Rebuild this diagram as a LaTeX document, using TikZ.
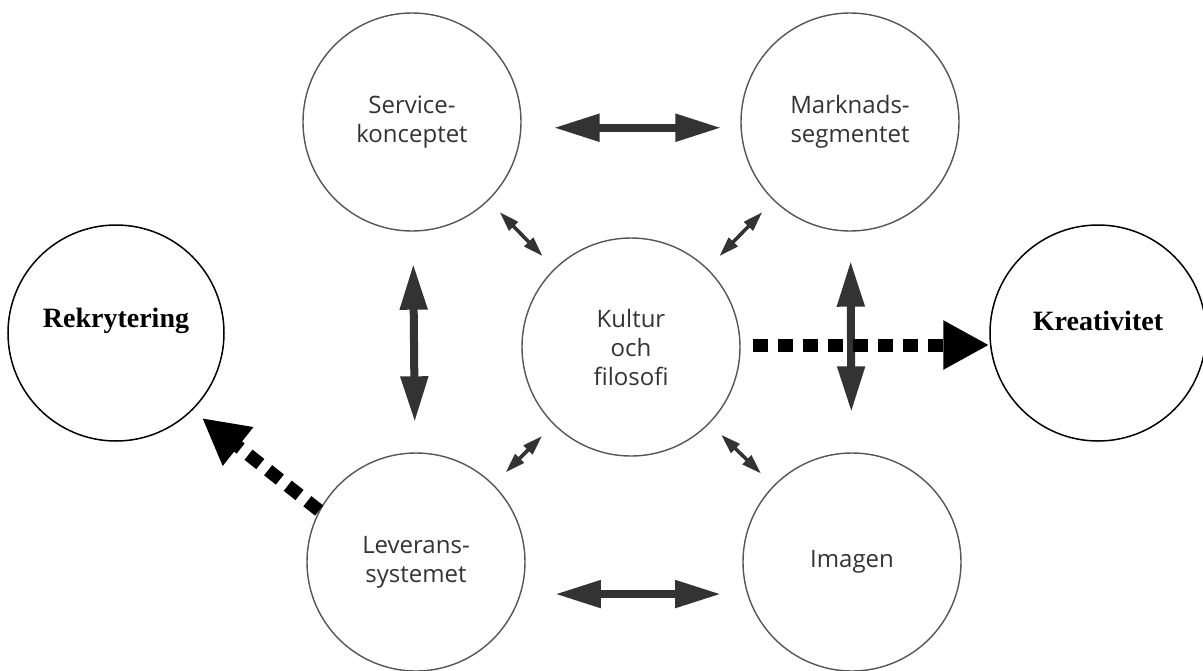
\documentclass[tikz,border=0pt]{standalone}
\usepackage{fontspec}
\setmainfont{Liberation Serif}
\newfontfamily\grayfont{Open Sans}
\usetikzlibrary{arrows.meta}
\definecolor{inkgray}{HTML}{333333}
\definecolor{linegray}{HTML}{555555}

\begin{document}
\begin{tikzpicture}[x=1pt,y=-1pt]
  \tikzstyle{ring}=[draw=linegray,line width=1.4pt,circle,minimum size=218pt,
                    inner sep=0pt,align=center,text=inkgray,
                    font=\grayfont\fontsize{24}{29}\selectfont]
  \tikzstyle{blackring}=[draw,line width=1.5pt,circle,minimum size=216pt,inner sep=0pt]
  \tikzstyle{boldtext}=[font=\bfseries\fontsize{28}{32}\selectfont,yshift=12pt]
  \tikzstyle{bigarrow}=[inkgray,line width=8pt,
                        {Triangle[length=46pt,width=26pt]}-{Triangle[length=46pt,width=26pt]}]
  \tikzstyle{smallarrow}=[inkgray,line width=3.6pt,
                          {Triangle[length=20pt,width=12pt]}-{Triangle[length=20pt,width=12pt]},
                          shorten <=16pt,shorten >=17pt]
  \tikzstyle{dotarrow}=[line width=13pt,dash pattern=on 15pt off 10pt,
                        -{Triangle[length=46pt,width=46pt]}]

  \useasboundingbox (0,0) rectangle (1203,670);

  \node (service)  [ring] at (412,122) {Service-\\konceptet};
  \node (marknad)  [ring] at (850,122) {Marknads-\\segmentet};
  \node (kultur)   [ring] at (631,347) {Kultur\\och\\filosofi};
  \node (leverans) [ring] at (416,562) {Leverans-\\systemet};
  \node (imagen)   [ring] at (852,562) {Imagen};
  \node (rekryt)  [blackring,label={[boldtext]center:Rekrytering}] at (116,333) {};
  \node (kreativ) [blackring,label={[boldtext]center:Kreativitet}] at (1098,333) {};

  % the four big links
  \draw[bigarrow,shorten <=32pt,shorten >=19pt] (service.-3) -- (marknad.183);
  \draw[bigarrow,shorten <=34pt,shorten >=26pt] (leverans.-17.6) -- (imagen.197.6);
  \draw[bigarrow,shorten <=32pt,shorten >=30pt] (service) -- (leverans);
  \draw[bigarrow,shorten <=29pt,shorten >=40pt] (marknad) -- (imagen);

  % links to the centre
  \draw[smallarrow] (service) -- (kultur);
  \draw[smallarrow] (marknad) -- (kultur);
  \draw[smallarrow] (kultur) -- (leverans);
  \draw[smallarrow] (kultur) -- (imagen);

  % dotted arrows out
  \coordinate (kreastart) at (753,345);
  \coordinate (rekrtip) at (202,418);
  \draw[dotarrow] (kreastart) -- (kreastart -| kreativ.west);
  \draw[dotarrow] (leverans.152) -- (rekrtip);
\end{tikzpicture}
\end{document}
